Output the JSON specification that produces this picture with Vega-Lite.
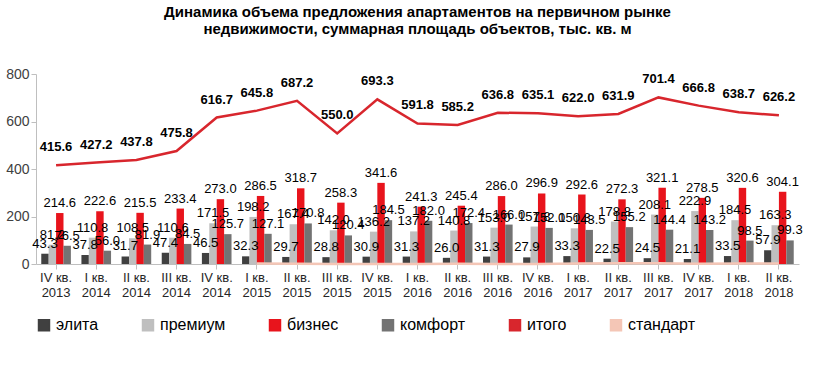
{
 "$schema": "https://vega.github.io/schema/vega-lite/v6.json",
 "width": 763, "height": 190,
 "title": {"text": ["Динамика объема предложения апартаментов на  первичном рынке", "недвижимости, суммарная площадь объектов, тыс. кв. м"], "anchor": "middle", "fontSize": 15, "fontWeight": "bold", "color": "#000000", "offset": 30},
 "config": {"view": {"stroke": null}, "font": "Liberation Sans"},
 "datasets": {
  "bars": [
   {"q": "IV кв. 2013", "s": "элита", "v": 43.3}, {"q": "IV кв. 2013", "s": "премиум", "v": 81.2}, {"q": "IV кв. 2013", "s": "бизнес", "v": 214.6}, {"q": "IV кв. 2013", "s": "комфорт", "v": 76.5},
   {"q": "I кв. 2014", "s": "элита", "v": 37.8}, {"q": "I кв. 2014", "s": "премиум", "v": 110.8}, {"q": "I кв. 2014", "s": "бизнес", "v": 222.6}, {"q": "I кв. 2014", "s": "комфорт", "v": 56.0},
   {"q": "II кв. 2014", "s": "элита", "v": 31.7}, {"q": "II кв. 2014", "s": "премиум", "v": 108.5}, {"q": "II кв. 2014", "s": "бизнес", "v": 215.5}, {"q": "II кв. 2014", "s": "комфорт", "v": 81.9},
   {"q": "III кв. 2014", "s": "элита", "v": 47.4}, {"q": "III кв. 2014", "s": "премиум", "v": 110.6}, {"q": "III кв. 2014", "s": "бизнес", "v": 233.4}, {"q": "III кв. 2014", "s": "комфорт", "v": 84.5},
   {"q": "IV кв. 2014", "s": "элита", "v": 46.5}, {"q": "IV кв. 2014", "s": "премиум", "v": 171.5}, {"q": "IV кв. 2014", "s": "бизнес", "v": 273.0}, {"q": "IV кв. 2014", "s": "комфорт", "v": 125.7},
   {"q": "I кв. 2015", "s": "элита", "v": 32.3}, {"q": "I кв. 2015", "s": "премиум", "v": 198.2}, {"q": "I кв. 2015", "s": "бизнес", "v": 286.5}, {"q": "I кв. 2015", "s": "комфорт", "v": 127.1},
   {"q": "II кв. 2015", "s": "элита", "v": 29.7}, {"q": "II кв. 2015", "s": "премиум", "v": 167.4}, {"q": "II кв. 2015", "s": "бизнес", "v": 318.7}, {"q": "II кв. 2015", "s": "комфорт", "v": 170.8},
   {"q": "III кв. 2015", "s": "элита", "v": 28.8}, {"q": "III кв. 2015", "s": "премиум", "v": 142.0}, {"q": "III кв. 2015", "s": "бизнес", "v": 258.3}, {"q": "III кв. 2015", "s": "комфорт", "v": 120.4},
   {"q": "IV кв. 2015", "s": "элита", "v": 30.9}, {"q": "IV кв. 2015", "s": "премиум", "v": 136.2}, {"q": "IV кв. 2015", "s": "бизнес", "v": 341.6}, {"q": "IV кв. 2015", "s": "комфорт", "v": 184.5},
   {"q": "I кв. 2016", "s": "элита", "v": 31.3}, {"q": "I кв. 2016", "s": "премиум", "v": 137.2}, {"q": "I кв. 2016", "s": "бизнес", "v": 241.3}, {"q": "I кв. 2016", "s": "комфорт", "v": 182.0},
   {"q": "II кв. 2016", "s": "элита", "v": 26.0}, {"q": "II кв. 2016", "s": "премиум", "v": 140.8}, {"q": "II кв. 2016", "s": "бизнес", "v": 245.4}, {"q": "II кв. 2016", "s": "комфорт", "v": 172.4},
   {"q": "III кв. 2016", "s": "элита", "v": 31.3}, {"q": "III кв. 2016", "s": "премиум", "v": 153.0}, {"q": "III кв. 2016", "s": "бизнес", "v": 286.0}, {"q": "III кв. 2016", "s": "комфорт", "v": 166.0},
   {"q": "IV кв. 2016", "s": "элита", "v": 27.9}, {"q": "IV кв. 2016", "s": "премиум", "v": 157.8}, {"q": "IV кв. 2016", "s": "бизнес", "v": 296.9}, {"q": "IV кв. 2016", "s": "комфорт", "v": 152.0},
   {"q": "I кв. 2017", "s": "элита", "v": 33.3}, {"q": "I кв. 2017", "s": "премиум", "v": 150.3}, {"q": "I кв. 2017", "s": "бизнес", "v": 292.6}, {"q": "I кв. 2017", "s": "комфорт", "v": 143.5},
   {"q": "II кв. 2017", "s": "элита", "v": 22.5}, {"q": "II кв. 2017", "s": "премиум", "v": 178.8}, {"q": "II кв. 2017", "s": "бизнес", "v": 272.3}, {"q": "II кв. 2017", "s": "комфорт", "v": 155.2},
   {"q": "III кв. 2017", "s": "элита", "v": 24.5}, {"q": "III кв. 2017", "s": "премиум", "v": 208.1}, {"q": "III кв. 2017", "s": "бизнес", "v": 321.1}, {"q": "III кв. 2017", "s": "комфорт", "v": 144.4},
   {"q": "IV кв. 2017", "s": "элита", "v": 21.1}, {"q": "IV кв. 2017", "s": "премиум", "v": 222.9}, {"q": "IV кв. 2017", "s": "бизнес", "v": 278.5}, {"q": "IV кв. 2017", "s": "комфорт", "v": 143.2},
   {"q": "I кв. 2018", "s": "элита", "v": 33.5}, {"q": "I кв. 2018", "s": "премиум", "v": 184.5}, {"q": "I кв. 2018", "s": "бизнес", "v": 320.6}, {"q": "I кв. 2018", "s": "комфорт", "v": 98.5},
   {"q": "II кв. 2018", "s": "элита", "v": 57.9}, {"q": "II кв. 2018", "s": "премиум", "v": 163.3}, {"q": "II кв. 2018", "s": "бизнес", "v": 304.1}, {"q": "II кв. 2018", "s": "комфорт", "v": 99.3}
  ],
  "lines": [
   {"q": "IV кв. 2013", "s": "итого", "v": 415.6}, {"q": "I кв. 2014", "s": "итого", "v": 427.2}, {"q": "II кв. 2014", "s": "итого", "v": 437.8}, {"q": "III кв. 2014", "s": "итого", "v": 475.8}, {"q": "IV кв. 2014", "s": "итого", "v": 616.7},
   {"q": "I кв. 2015", "s": "итого", "v": 645.8}, {"q": "II кв. 2015", "s": "итого", "v": 687.2}, {"q": "III кв. 2015", "s": "итого", "v": 550.0}, {"q": "IV кв. 2015", "s": "итого", "v": 693.3},
   {"q": "I кв. 2016", "s": "итого", "v": 591.8}, {"q": "II кв. 2016", "s": "итого", "v": 585.2}, {"q": "III кв. 2016", "s": "итого", "v": 636.8}, {"q": "IV кв. 2016", "s": "итого", "v": 635.1},
   {"q": "I кв. 2017", "s": "итого", "v": 622.0}, {"q": "II кв. 2017", "s": "итого", "v": 631.9}, {"q": "III кв. 2017", "s": "итого", "v": 701.4}, {"q": "IV кв. 2017", "s": "итого", "v": 666.8},
   {"q": "I кв. 2018", "s": "итого", "v": 638.7}, {"q": "II кв. 2018", "s": "итого", "v": 626.2},
   {"q": "I кв. 2015", "s": "стандарт", "v": 1.7}, {"q": "II кв. 2015", "s": "стандарт", "v": 0.6}, {"q": "III кв. 2015", "s": "стандарт", "v": 0.5}, {"q": "IV кв. 2015", "s": "стандарт", "v": 0.1},
   {"q": "I кв. 2016", "s": "стандарт", "v": 0.0}, {"q": "II кв. 2016", "s": "стандарт", "v": 0.6}, {"q": "III кв. 2016", "s": "стандарт", "v": 0.5}, {"q": "IV кв. 2016", "s": "стандарт", "v": 0.5},
   {"q": "I кв. 2017", "s": "стандарт", "v": 2.3}, {"q": "II кв. 2017", "s": "стандарт", "v": 3.1}, {"q": "III кв. 2017", "s": "стандарт", "v": 3.3}, {"q": "IV кв. 2017", "s": "стандарт", "v": 1.1},
   {"q": "I кв. 2018", "s": "стандарт", "v": 1.6}, {"q": "II кв. 2018", "s": "стандарт", "v": 1.6}
  ]
 },
 "encoding": {
  "x": {"field": "q", "type": "nominal",
   "scale": {"domain": ["IV кв. 2013", "I кв. 2014", "II кв. 2014", "III кв. 2014", "IV кв. 2014", "I кв. 2015", "II кв. 2015", "III кв. 2015", "IV кв. 2015", "I кв. 2016", "II кв. 2016", "III кв. 2016", "IV кв. 2016", "I кв. 2017", "II кв. 2017", "III кв. 2017", "IV кв. 2017", "I кв. 2018", "II кв. 2018"], "paddingInner": 0, "paddingOuter": 0},
   "axis": {"title": null, "labelAngle": 0, "labelExpr": "[slice(datum.value, 0, -5), slice(datum.value, -4)]", "labelFontSize": 13, "labelColor": "#262626", "tickColor": "#bfbfbf", "domainColor": "#bfbfbf"}},
  "y": {"field": "v", "type": "quantitative", "scale": {"domain": [0, 800]},
   "axis": {"title": null, "tickCount": 4, "grid": false, "labelFontSize": 14, "labelColor": "#404040", "domainColor": "#bfbfbf", "tickColor": "#bfbfbf"}}
 },
 "layer": [
  {"data": {"name": "bars"}, "transform": [{"filter": "datum.s == 'элита'"}],
   "mark": {"type": "bar", "width": {"band": 0.185}, "xOffset": -11.1},
   "encoding": {"color": {"field": "s", "type": "nominal",
     "scale": {"domain": ["элита", "премиум", "бизнес", "комфорт", "итого", "стандарт"], "range": ["#404040", "#bfbfbf", "#e8141c", "#737373", "#d8262d", "#f4c6b6"]},
     "legend": {"title": null, "orient": "bottom", "direction": "horizontal", "labelFontSize": 16, "labelColor": "#000000", "symbolSize": 120, "columnPadding": 40}}}},
  {"data": {"name": "bars"}, "transform": [{"filter": "datum.s == 'премиум'"}],
   "mark": {"type": "bar", "width": {"band": 0.185}, "xOffset": -3.7},
   "encoding": {"color": {"field": "s", "type": "nominal"}}},
  {"data": {"name": "bars"}, "transform": [{"filter": "datum.s == 'бизнес'"}],
   "mark": {"type": "bar", "width": {"band": 0.185}, "xOffset": 3.7},
   "encoding": {"color": {"field": "s", "type": "nominal"}}},
  {"data": {"name": "bars"}, "transform": [{"filter": "datum.s == 'комфорт'"}],
   "mark": {"type": "bar", "width": {"band": 0.185}, "xOffset": 11.1},
   "encoding": {"color": {"field": "s", "type": "nominal"}}},
  {"data": {"name": "bars"}, "transform": [{"filter": "datum.s == 'элита'"}],
   "mark": {"type": "text", "baseline": "bottom", "dy": -3, "xOffset": -11.1, "fontSize": 13, "color": "#000000"},
   "encoding": {"text": {"field": "v", "type": "quantitative", "format": ".1f"}}},
  {"data": {"name": "bars"}, "transform": [{"filter": "datum.s == 'премиум'"}],
   "mark": {"type": "text", "baseline": "bottom", "dy": -3, "xOffset": -3.7, "fontSize": 13, "color": "#000000"},
   "encoding": {"text": {"field": "v", "type": "quantitative", "format": ".1f"}}},
  {"data": {"name": "bars"}, "transform": [{"filter": "datum.s == 'бизнес'"}],
   "mark": {"type": "text", "baseline": "bottom", "dy": -3, "xOffset": 3.7, "fontSize": 13, "color": "#000000"},
   "encoding": {"text": {"field": "v", "type": "quantitative", "format": ".1f"}}},
  {"data": {"name": "bars"}, "transform": [{"filter": "datum.s == 'комфорт'"}],
   "mark": {"type": "text", "baseline": "bottom", "dy": -3, "xOffset": 11.1, "fontSize": 13, "color": "#000000"},
   "encoding": {"text": {"field": "v", "type": "quantitative", "format": ".1f"}}},
  {"data": {"name": "lines"},
   "mark": {"type": "line", "strokeWidth": 2.5},
   "encoding": {"color": {"field": "s", "type": "nominal"}}},
  {"data": {"name": "lines"}, "transform": [{"filter": "datum.s == 'итого'"}],
   "mark": {"type": "text", "baseline": "bottom", "dy": -11, "fontSize": 13, "fontWeight": "bold", "color": "#000000"},
   "encoding": {"text": {"field": "v", "type": "quantitative", "format": ".1f"}}}
 ]
}
